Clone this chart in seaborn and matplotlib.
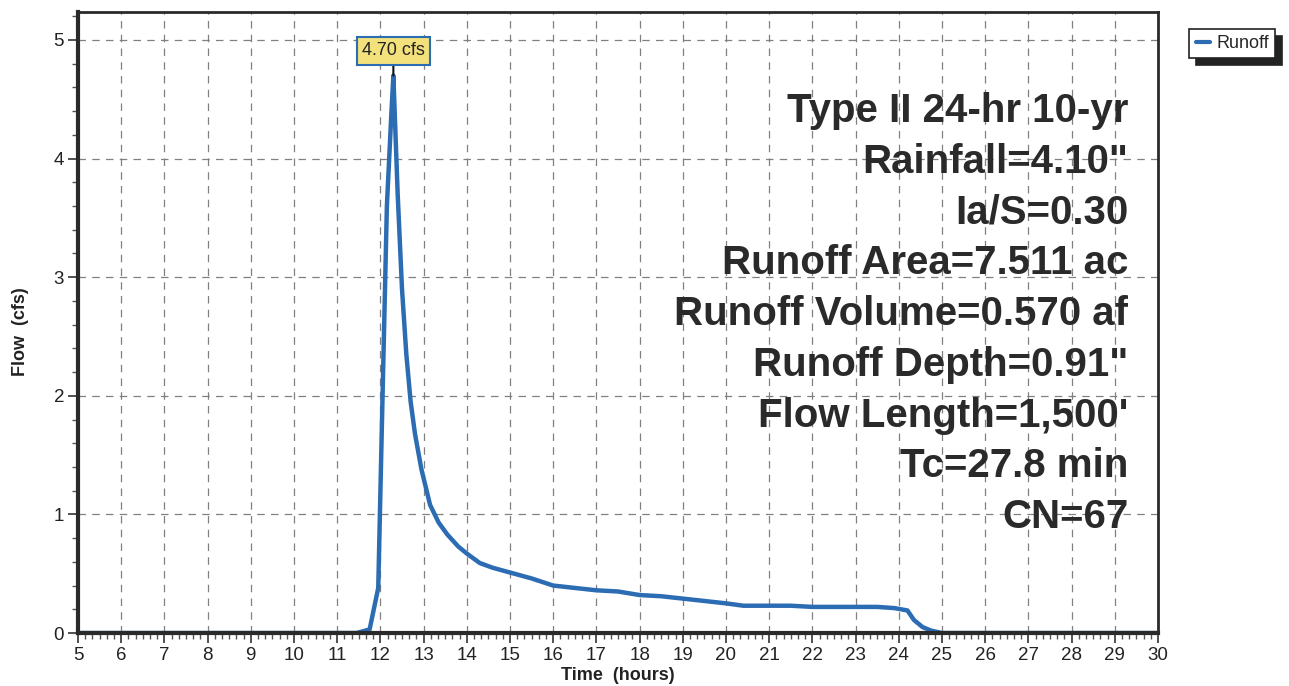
import matplotlib
matplotlib.use("Agg")
import matplotlib.pyplot as plt
from matplotlib.ticker import MultipleLocator
import seaborn as sns
import pandas as pd

time_hours = [5.0, 11.45, 11.75, 11.95, 12.05, 12.15, 12.25, 12.30, 12.40, 12.50,
              12.60, 12.70, 12.80, 12.95, 13.15, 13.35, 13.55, 13.80, 14.00, 14.30,
              14.60, 15.00, 15.50, 16.00, 16.50, 17.00, 17.50, 18.00, 18.50, 19.00,
              19.50, 20.00, 20.40, 21.00, 21.50, 22.00, 22.50, 23.00, 23.50, 23.90,
              24.20, 24.35, 24.55, 24.75, 25.00, 30.0]
flow_cfs = [0.00, 0.00, 0.03, 0.38, 2.00, 3.60, 4.35, 4.70, 3.70, 2.90,
            2.35, 1.95, 1.68, 1.38, 1.08, 0.93, 0.83, 0.73, 0.67, 0.59,
            0.55, 0.51, 0.46, 0.40, 0.38, 0.36, 0.35, 0.32, 0.31, 0.29,
            0.27, 0.25, 0.23, 0.23, 0.23, 0.22, 0.22, 0.22, 0.22, 0.21,
            0.19, 0.11, 0.05, 0.02, 0.00, 0.00]
series_name = "Runoff"
peak_label = "4.70 cfs"
peak_time = 12.30
peak_flow = 4.70
info_lines = ["Type II 24-hr 10-yr", "Rainfall=4.10\"", "Ia/S=0.30",
              "Runoff Area=7.511 ac", "Runoff Volume=0.570 af",
              "Runoff Depth=0.91\"", "Flow Length=1,500'", "Tc=27.8 min", "CN=67"]
x_ticks = list(range(5, 31))
y_ticks = [0, 1, 2, 3, 4, 5]

df = pd.DataFrame({"Time": time_hours, "Flow": flow_cfs, "Series": series_name})

sns.set_style("white")
plt.rcParams["font.family"] = ["Liberation Sans", "DejaVu Sans"]

fig = plt.figure(figsize=(12.89, 6.86), dpi=100)
ax = fig.add_axes([78 / 1289, 53 / 686, 1080 / 1289, 621 / 686])

line_color = "#2b6cb3"
sns.lineplot(data=df, x="Time", y="Flow", hue="Series", palette=[line_color],
             linewidth=3.2, ax=ax, legend=False, estimator=None, sort=False)

ax.set_xlim(5, 30)
ax.set_ylim(0, 5.236)
ax.set_xticks(x_ticks)
ax.set_yticks(y_ticks)
ax.xaxis.set_minor_locator(MultipleLocator(1 / 6))
ax.yaxis.set_minor_locator(MultipleLocator(0.2))
ax.tick_params(axis="both", which="major", direction="out", length=7, width=1.2,
               color="#333333", labelsize=13.5, labelcolor="#222222", pad=3)
ax.tick_params(axis="both", which="minor", direction="out", length=4, width=1,
               color="#555555")
ax.tick_params(axis="x", which="both", bottom=True)
ax.tick_params(axis="y", which="both", left=True)

ax.grid(True, which="major", color="#808080", linestyle=(0, (6, 5)), linewidth=0.9)
ax.set_axisbelow(True)

for side in ["left", "bottom"]:
    ax.spines[side].set_linewidth(3)
    ax.spines[side].set_color("#2a2a2a")
for side in ["top", "right"]:
    ax.spines[side].set_linewidth(2)
    ax.spines[side].set_color("#2a2a2a")

ax.set_xlabel("Time  (hours)", fontsize=13, fontweight="bold", color="#222222", labelpad=2)
ax.set_ylabel("Flow  (cfs)", fontsize=13, fontweight="bold", color="#222222")
ax.yaxis.set_label_coords(-0.045, 0.485)

# Peak annotation
ax.annotate(peak_label, xy=(peak_time, peak_flow), xytext=(peak_time, 4.91),
            ha="center", va="center", fontsize=13, color="#222222",
            bbox=dict(boxstyle="square,pad=0.3", facecolor="#f3e27c",
                      edgecolor="#2b6cb3", linewidth=1.5),
            arrowprops=dict(arrowstyle="-", color="#111111", lw=1.5,
                            shrinkA=0, shrinkB=0))

# Info text block (right aligned)
y0 = 4.40
dy = 0.428
for i, txt in enumerate(info_lines):
    ax.text(29.31, y0 - i * dy, txt, ha="right", va="center", fontsize=29,
            fontweight="bold", color="#2a2a2a")

# Legend outside, top right
handles = [plt.Line2D([0], [0], color=line_color, linewidth=3)]
leg = ax.legend(handles, [series_name], loc="upper left",
                bbox_to_anchor=(1.029, 0.973), frameon=True, fancybox=False,
                shadow={"color": "#222222", "alpha": 1.0, "ox": 5, "oy": -5},
                edgecolor="#222222", fontsize=13, handlelength=0.8,
                handletextpad=0.35, borderpad=0.35, borderaxespad=0)
leg.get_frame().set_linewidth(1.2)

fig.savefig("out.png", dpi=100)
